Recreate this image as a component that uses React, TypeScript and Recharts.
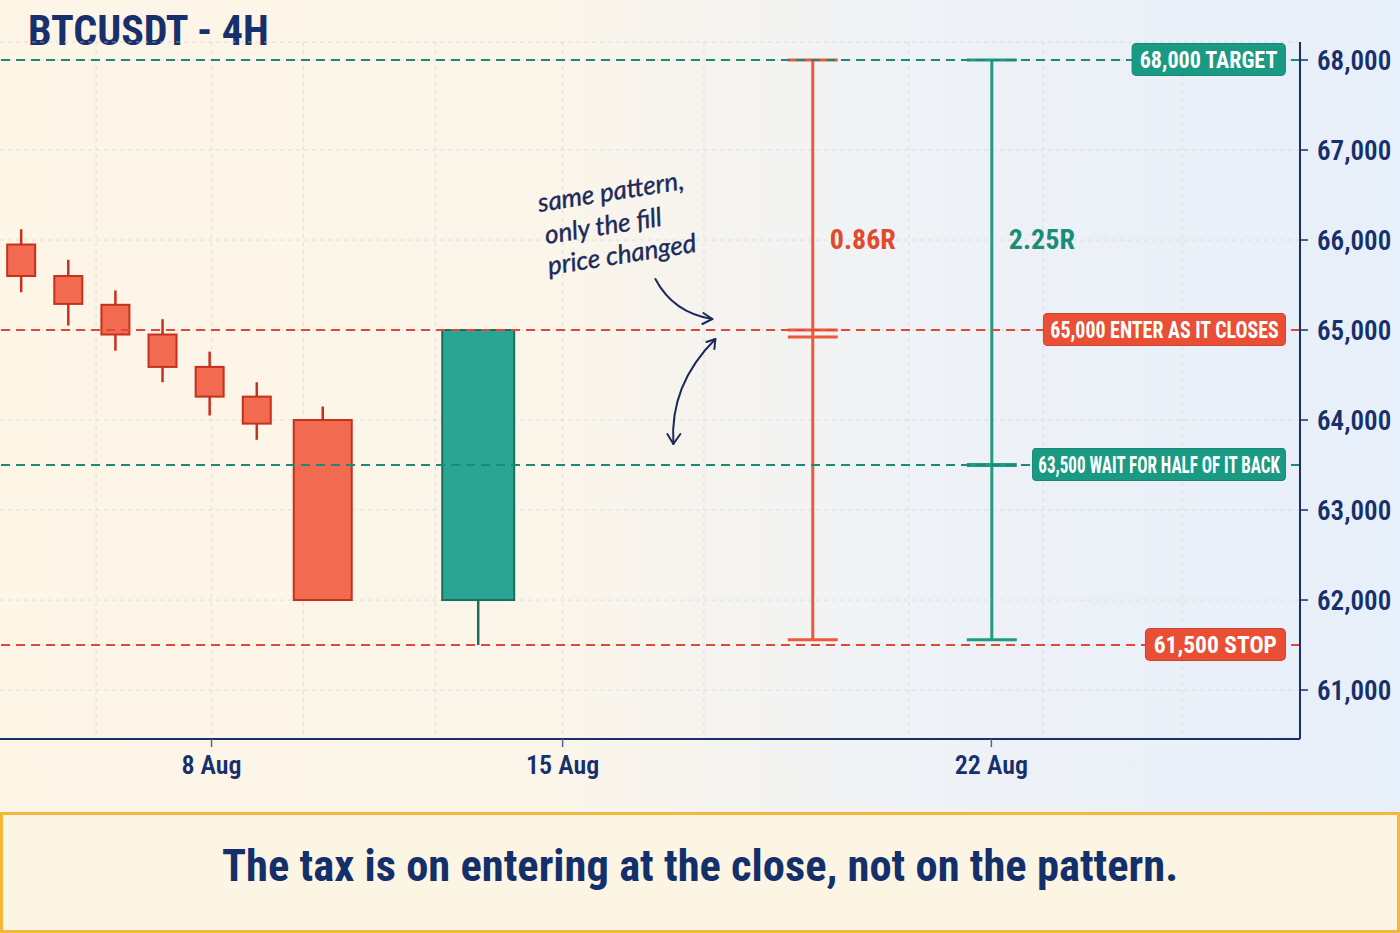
import React from "react";
import {
  ComposedChart,
  Bar,
  XAxis,
  YAxis,
  CartesianGrid,
  ReferenceLine,
  ReferenceDot,
} from "recharts";

// x = bar slot on the 4H time axis (gaps between sessions compressed)
const candleX = [0, 1, 2, 3, 4, 5, 6.4, 9.7];
const candleOpen = [65950, 65600, 65280, 64950, 64590, 64260, 64000, 62000];
const candleHigh = [66120, 65780, 65440, 65120, 64760, 64420, 64150, 65000];
const candleLow = [65420, 65050, 64770, 64420, 64050, 63780, 62000, 61500];
const candleClose = [65600, 65290, 64950, 64590, 64260, 63960, 62000, 65000];
const candleKind = ["bar", "bar", "bar", "bar", "bar", "bar", "setup", "signal"];

// risk/reward bars: enter at the close vs. wait for half the candle back
const rrX = [16.8, 20.6];
const rrLabel = ["0.86R", "2.25R"];
const rrEntry = [65000, 63500];
const rrStop = [61560, 61560];
const rrTarget = [68000, 68000];
const rrTone = ["red", "teal"];

const levelPrice = [68000, 65000, 63500, 61500];
const levelText = [
  "68,000 TARGET",
  "65,000 ENTER AS IT CLOSES",
  "63,500 WAIT FOR HALF OF IT BACK",
  "61,500 STOP",
];
const levelTone = ["teal", "red", "teal", "red"];

const priceTicks = [61000, 62000, 63000, 64000, 65000, 66000, 67000, 68000];
const dateTicks = [4.05, 11.5, 20.6];
const dateLabels = ["8 Aug", "15 Aug", "22 Aug"];
const gridX = [1.6, 4.05, 6.0, 8.8, 11.5, 14.5, 18.85, 21.7, 24.65];

const NAVY = "#17306b";
const COND =
  "'Liberation Sans Narrow', 'Roboto Condensed', 'DejaVu Sans Condensed', 'Liberation Sans', Arial, sans-serif";

const TONES: Record<string, { line: string; box: string; text: string }> = {
  red: { line: "#e2483a", box: "#ea4e35", text: "#e14a2e" },
  teal: { line: "#1d8a78", box: "#1a9a83", text: "#1c8c78" },
};

const bodyWidth: Record<string, number> = { bar: 28, setup: 58, signal: 72 };
// the long price tags are squeezed narrower in the original
const tagSquash = [0.92, 0.83, 0.71, 0.98];

const chartData = [
  ...candleX.map((x, i) => ({
    x,
    kind: candleKind[i],
    open: candleOpen[i],
    close: candleClose[i],
    high: candleHigh[i],
    low: candleLow[i],
    range: [candleLow[i], candleHigh[i]],
  })),
  ...rrX.map((x, i) => ({
    x,
    kind: "rr",
    tone: rrTone[i],
    label: rrLabel[i],
    entry: rrEntry[i],
    high: rrTarget[i],
    low: rrStop[i],
    range: [rrStop[i], rrTarget[i]],
  })),
];

function PriceShape(props: any) {
  const { x, y, width, height, payload } = props;
  if (x == null || y == null) return null;
  const cx = x + width / 2;
  const top = Math.min(y, y + height);
  const bot = Math.max(y, y + height);
  const px = (v: number) =>
    top + ((payload.high - v) / (payload.high - payload.low)) * (bot - top);

  if (payload.kind === "rr") {
    const c = TONES[payload.tone];
    const stroke = payload.tone === "red" ? "#ec5a3c" : "#1f9a85";
    const ey = px(payload.entry);
    return (
      <g>
        <line x1={cx} x2={cx} y1={top} y2={bot} stroke={stroke} strokeWidth={3} />
        <line x1={cx - 25} x2={cx + 25} y1={top} y2={top} stroke={stroke} strokeWidth={3} />
        <line x1={cx - 25} x2={cx + 25} y1={bot} y2={bot} stroke={stroke} strokeWidth={3} />
        {payload.tone === "red" ? (
          <g>
            <line x1={cx - 25} x2={cx + 25} y1={ey} y2={ey} stroke={stroke} strokeWidth={3} />
            <line x1={cx - 25} x2={cx + 25} y1={ey + 7} y2={ey + 7} stroke={stroke} strokeWidth={3} />
          </g>
        ) : (
          <line x1={cx - 25} x2={cx + 25} y1={ey} y2={ey} stroke={stroke} strokeWidth={4} />
        )}
        <text
          x={cx + 17}
          y={top + (bot - top) * 0.31}
          dominantBaseline="central"
          fill={c.text}
          fontFamily={COND}
          fontWeight={700}
          fontSize={28}
        >
          {payload.label}
        </text>
      </g>
    );
  }

  const up = payload.close >= payload.open;
  const fill = up ? "#2aa593" : "#f26a4f";
  const edge = up ? "#1b6e5e" : "#c6301f";
  const w = bodyWidth[payload.kind] || 28;
  const bTop = px(Math.max(payload.open, payload.close));
  const bBot = px(Math.min(payload.open, payload.close));
  return (
    <g>
      <line x1={cx} x2={cx} y1={top} y2={bot} stroke={edge} strokeWidth={2.5} />
      <rect
        x={cx - w / 2}
        y={bTop}
        width={w}
        height={Math.max(1, bBot - bTop)}
        fill={fill}
        stroke={edge}
        strokeWidth={2}
      />
    </g>
  );
}

function LevelTag(props: any) {
  const { viewBox, text, tone, squash } = props;
  if (!viewBox) return null;
  const right = viewBox.x + viewBox.width - 14;
  const cy = viewBox.y;
  const c = TONES[tone];
  return (
    <foreignObject x={right - 500} y={cy - 17} width={500} height={35}>
      <div style={{ display: "flex", justifyContent: "flex-end", height: "100%" }}>
        <span
          style={{
            display: "inline-block",
            transform: `scaleX(${squash})`,
            transformOrigin: "right center",
            background: c.box,
            color: "#fff",
            borderRadius: 5,
            padding: "0 8px",
            lineHeight: "33px",
            height: 33,
            fontFamily: COND,
            fontWeight: 700,
            fontSize: 24,
            whiteSpace: "nowrap",
            border: "1px solid rgba(0,0,0,0.12)",
            boxSizing: "border-box",
          }}
        >
          {text}
        </span>
      </div>
    </foreignObject>
  );
}

function Note(props: any) {
  const { cx, cy } = props;
  if (cx == null || cy == null) return null;
  const ink = "#1b2a5a";
  const hand = { fontFamily: "Lato, 'DejaVu Sans', sans-serif", fontStyle: "italic", fontSize: 26 };
  const lines = [
    { t: "same pattern,", dx: -174, dy: -118 },
    { t: "only the fill", dx: -167, dy: -86 },
    { t: "price changed", dx: -164, dy: -55 },
  ];
  return (
    <g>
      <g fill="none" stroke={ink} strokeWidth={2} strokeLinecap="round" strokeLinejoin="round">
        <path d={`M ${cx - 58} ${cy - 51} Q ${cx - 40} ${cy - 17} ${cx - 1} ${cy - 11}`} />
        <path d={`M ${cx - 10} ${cy - 17} L ${cx - 1} ${cy - 11} L ${cx - 11} ${cy - 6}`} />
        <path d={`M ${cx + 2} ${cy + 9} C ${cx - 23} ${cy + 34} ${cx - 43} ${cy + 69} ${cx - 40} ${cy + 114}`} />
        <path d={`M ${cx - 7} ${cy + 12} L ${cx + 2} ${cy + 9} L ${cx + 1} ${cy + 19}`} />
        <path d={`M ${cx - 46} ${cy + 104} L ${cx - 40} ${cy + 114} L ${cx - 33} ${cy + 104}`} />
      </g>
      {lines.map((l) => (
        <text
          key={l.t}
          x={cx + l.dx}
          y={cy + l.dy}
          fill={ink}
          stroke={ink}
          strokeWidth={0.4}
          transform={`rotate(-9 ${cx + l.dx} ${cy + l.dy})`}
          {...hand}
        >
          {l.t}
        </text>
      ))}
    </g>
  );
}

export default function App() {
  return (
    <div
      style={{
        position: "absolute",
        left: 0,
        top: 0,
        width: 1400,
        height: 933,
        overflow: "hidden",
        background: "linear-gradient(90deg, #fdf5e6 0%, #fbf5ea 40%, #eff2f6 65%, #e7effa 100%)",
      }}
    >
      <div
        style={{
          position: "absolute",
          left: 28,
          top: 7,
          fontFamily: COND,
          fontWeight: 700,
          fontSize: 42,
          color: NAVY,
          lineHeight: "48px",
        }}
      >
        BTCUSDT - 4H
      </div>
      <div style={{ position: "absolute", left: 0, top: 0 }}>
        <ComposedChart
          width={1400}
          height={800}
          data={chartData}
          margin={{ top: 42, right: 0, bottom: 11, left: 0 }}
        >
          <CartesianGrid
            stroke="#cfd2d6"
            strokeOpacity={0.6}
            strokeDasharray="4 4"
            verticalValues={gridX}
          />
          <XAxis
            dataKey="x"
            type="number"
            domain={[-0.44, 27.15]}
            allowDataOverflow
            ticks={dateTicks}
            interval={0}
            tickFormatter={(v: number) => dateLabels[dateTicks.indexOf(v)] ?? ""}
            height={50}
            axisLine={{ stroke: NAVY, strokeWidth: 2 }}
            tickLine={{ stroke: "#5a6488", strokeWidth: 1.5 }}
            tickSize={8}
            tickMargin={9}
            tick={{ fill: NAVY, fontSize: 26, fontFamily: COND, fontWeight: 600 }}
          />
          <YAxis
            orientation="right"
            type="number"
            domain={[60456, 68200]}
            allowDataOverflow
            ticks={priceTicks}
            interval={0}
            width={100}
            tickFormatter={(v: number) => v.toLocaleString("en-US")}
            axisLine={{ stroke: NAVY, strokeWidth: 2 }}
            tickLine={{ stroke: NAVY, strokeWidth: 1.5 }}
            tickSize={8}
            tickMargin={9}
            tick={{ fill: NAVY, fontSize: 27, fontFamily: COND, fontWeight: 600 }}
          />
          {levelPrice.map((p, i) => (
            <ReferenceLine
              key={p}
              y={p}
              stroke={TONES[levelTone[i]].line}
              strokeWidth={2}
              strokeDasharray="9 6"
              label={<LevelTag text={levelText[i]} tone={levelTone[i]} squash={tagSquash[i]} />}
            />
          ))}
          <Bar
            dataKey="range"
            barSize={30}
            shape={(p: any) => <PriceShape {...p} />}
            isAnimationActive={false}
          />
          <ReferenceDot x={14.7} y={65000} r={0} shape={(p: any) => <Note {...p} />} />
        </ComposedChart>
      </div>
      <div
        style={{
          position: "absolute",
          left: 0,
          top: 812,
          width: 1400,
          height: 121,
          boxSizing: "border-box",
          border: "3px solid #f4b73b",
          background: "#fdf5e3",
          display: "flex",
          alignItems: "center",
          justifyContent: "center",
          paddingBottom: 14,
          fontFamily: COND,
          fontWeight: 700,
          fontSize: 44.5,
          color: "#14306b",
        }}
      >
        The tax is on entering at the close, not on the pattern.
      </div>
    </div>
  );
}
